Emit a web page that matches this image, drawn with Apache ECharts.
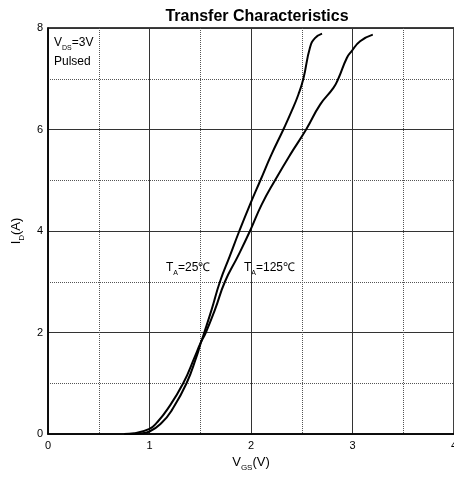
<!DOCTYPE html>
<html>
<head>
<meta charset="utf-8">
<script src="https://cdn.jsdelivr.net/npm/echarts@6/dist/echarts.min.js"></script>
<style>
  html, body { margin: 0; padding: 0; background: #fff; }
  #chart { width: 454px; height: 481px; }
</style>
</head>
<body>
<div id="chart"></div>
<script>
// data
var vgs25 = [0.8, 0.9, 1.0, 1.12, 1.223, 1.365, 1.464, 1.503, 1.54, 1.612, 1.694, 1.79, 1.885, 1.99, 2.095, 2.2, 2.319, 2.40, 2.467, 2.516, 2.582, 2.63, 2.70]
var id25 = [0, 0.01, 0.05, 0.22, 0.48, 1.0, 1.53, 1.78, 2.0, 2.45, 3.0, 3.5, 4.0, 4.52, 5.01, 5.5, 6.0, 6.36, 6.69, 7.0, 7.62, 7.8, 7.89]
var vgs125 = [0.75, 0.85, 1.0, 1.07, 1.174, 1.332, 1.448, 1.500, 1.555, 1.645, 1.743, 1.87, 1.99, 2.105, 2.237, 2.385, 2.543, 2.681, 2.812, 2.86, 2.944, 2.99, 3.075, 3.20]
var id125 = [0, 0.015, 0.10, 0.22, 0.48, 1.0, 1.53, 1.78, 2.0, 2.45, 3.0, 3.5, 4.0, 4.52, 5.0, 5.5, 6.0, 6.49, 6.82, 7.0, 7.41, 7.54, 7.74, 7.87]

var font = 'Liberation Sans, Arial, sans-serif'
function subRich (size, subSize) {
  return {
    n: { fontSize: size, fontFamily: font, color: '#000' },
    s: { fontSize: subSize, fontFamily: font, color: '#000', padding: [11, 0, 0, 0] }
  }
}

function pairs (xs, ys) {
  return xs.map(function (x, i) { return [x, ys[i]] })
}

var chart = echarts.init(document.getElementById('chart'))
var option = {
  animation: false,
  title: {
    text: 'Transfer Characteristics',
    left: 252,
    textAlign: 'center',
    top: 4,
    textStyle: { fontFamily: font, fontSize: 16, fontWeight: 'bold', color: '#000' }
  },
  grid: {
    left: 48, right: 0, top: 28, bottom: 47,
    outerBoundsMode: 'none',
    show: true, borderColor: '#000', borderWidth: 1.5
  },
  xAxis: {
    type: 'value', min: 0, max: 4, interval: 1,
    name: '{n|V}{s|GS}{n|(V)}',
    nameLocation: 'middle', nameGap: 17,
    nameTextStyle: { rich: subRich(13, 8) },
    axisLine: { show: true, lineStyle: { color: '#000', width: 1.5 } },
    axisTick: { show: false },
    axisLabel: { fontFamily: font, fontSize: 11, color: '#000', margin: 6 },
    splitLine: { lineStyle: { color: '#333', width: 1 } },
    minorTick: { show: false, splitNumber: 2 },
    minorSplitLine: { show: true, lineStyle: { color: '#555', type: [1, 1], width: 1 } }
  },
  yAxis: {
    type: 'value', min: 0, max: 8, interval: 2,
    name: '{n|I}{s|D}{n|(A)}',
    nameLocation: 'middle', nameGap: 22,
    nameTextStyle: { rich: subRich(13, 8) },
    axisLine: { show: true, lineStyle: { color: '#000', width: 1.5 } },
    axisTick: { show: false },
    axisLabel: { fontFamily: font, fontSize: 11, color: '#000', margin: 5 },
    splitLine: { lineStyle: { color: '#333', width: 1 } },
    minorTick: { show: false, splitNumber: 2 },
    minorSplitLine: { show: true, lineStyle: { color: '#555', type: [1, 1], width: 1 } }
  },
  graphic: [
    { type: 'text', left: 54, top: 37, style: { text: '{n|V}{s|DS}{n|=3V}', rich: subRich(12, 7) } },
    { type: 'text', left: 54, top: 56, style: { text: 'Pulsed', fontFamily: font, fontSize: 12, fill: '#000' } },
    { type: 'text', left: 166, top: 262, style: { text: '{n|T}{s|A}{n|=25℃}', rich: subRich(12, 7) } },
    { type: 'text', left: 244, top: 262, style: { text: '{n|T}{s|A}{n|=125℃}', rich: subRich(12, 7) } }
  ],
  series: [
    {
      name: '25', type: 'line', data: pairs(vgs25, id25),
      smooth: true, showSymbol: false,
      lineStyle: { color: '#000', width: 2 }
    },
    {
      name: '125', type: 'line', data: pairs(vgs125, id125),
      smooth: true, showSymbol: false,
      lineStyle: { color: '#000', width: 2 }
    }
  ]
}
chart.setOption(option, true)
</script>
</body>
</html>
